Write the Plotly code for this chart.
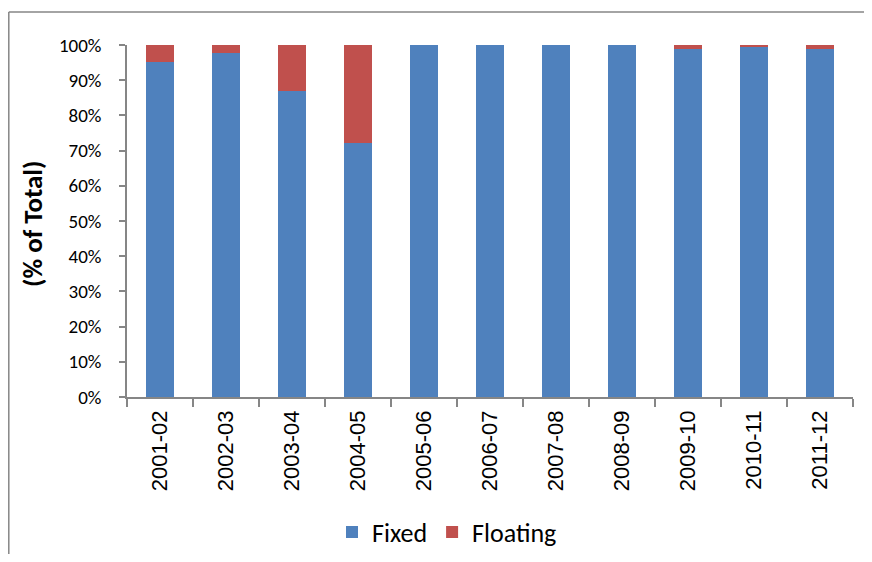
import plotly.graph_objects as go

# Data (% of total)
years = ["2001-02", "2002-03", "2003-04", "2004-05", "2005-06", "2006-07",
         "2007-08", "2008-09", "2009-10", "2010-11", "2011-12"]
fixed = [95.3, 97.6, 86.9, 72.2, 100.0, 100.0, 100.0, 100.0, 98.8, 99.4, 98.8]
floating = [4.7, 2.4, 13.1, 27.8, 0.0, 0.0, 0.0, 0.0, 1.2, 0.6, 1.2]
y_ticks = [0, 10, 20, 30, 40, 50, 60, 70, 80, 90, 100]

BLUE = "#4F81BD"
RED = "#C0504D"
AXIS = "#868686"
FONT = "Carlito, Lato, sans-serif"
XFONT = "Liberation Sans, Arial, sans-serif"

# page body has an 8px margin on every side; keep the figure inside the window
W, H = 856, 546
L, R, T, B = 119, 11, 37, 157
pw, ph = W - L - R, H - T - B


def px_x(x):
    return (x - L) / pw


def px_y(y):
    return (H - B - y) / ph


fig = go.Figure()
fig.add_trace(go.Bar(x=years, y=fixed, name="Fixed", marker_color=BLUE,
                     marker_line_width=0))
fig.add_trace(go.Bar(x=years, y=floating, name="Floating", marker_color=RED,
                     marker_line_width=0))

fig.update_layout(
    width=W, height=H,
    barmode="stack",
    bargap=0.59,
    margin=dict(l=L, r=R, t=T, b=B, autoexpand=False),
    paper_bgcolor="white",
    plot_bgcolor="white",
    font=dict(family=FONT, size=19, color="black"),
    xaxis=dict(
        type="category",
        automargin=False,
        tickangle=-90,
        ticks="outside", ticklen=8, tickcolor=AXIS, tickwidth=1.5,
        tickson="boundaries",
        showline=True, linecolor=AXIS, linewidth=1.5,
        showgrid=False,
        tickfont=dict(family=XFONT, size=22),
        ticklabelstandoff=3,
    ),
    yaxis=dict(
        range=[0, 100],
        automargin=False,
        tickvals=y_ticks,
        ticktext=[f"{v}%" for v in y_ticks],
        ticks="outside", ticklen=6, tickcolor=AXIS, tickwidth=1.5,
        showline=True, linecolor=AXIS, linewidth=1.5,
        showgrid=False, zeroline=False,
        tickfont=dict(size=19),
        ticklabelstandoff=14,
    ),
    legend=dict(
        orientation="h",
        traceorder="normal",
        x=px_x(324), xanchor="left",
        y=px_y(524), yanchor="middle",
        font=dict(size=26),
        itemwidth=30,
    ),
    annotations=[
        dict(text="<b>(% of Total)</b>", textangle=-90,
             xref="paper", yref="paper", x=px_x(24), y=px_y(216),
             xanchor="center", yanchor="middle", showarrow=False,
             font=dict(size=27)),
    ],
    shapes=[
        # chart area border, only left and top edges are in view
        dict(type="line", xref="paper", yref="paper", layer="below",
             x0=px_x(0.8), x1=px_x(0.8), y0=px_y(H + 20), y1=px_y(4),
             line=dict(color=AXIS, width=1.5)),
        dict(type="line", xref="paper", yref="paper", layer="below",
             x0=px_x(0.8), x1=px_x(W + 20), y0=px_y(4), y1=px_y(4),
             line=dict(color=AXIS, width=1.5)),
    ],
)

fig.write_html("out.html")
